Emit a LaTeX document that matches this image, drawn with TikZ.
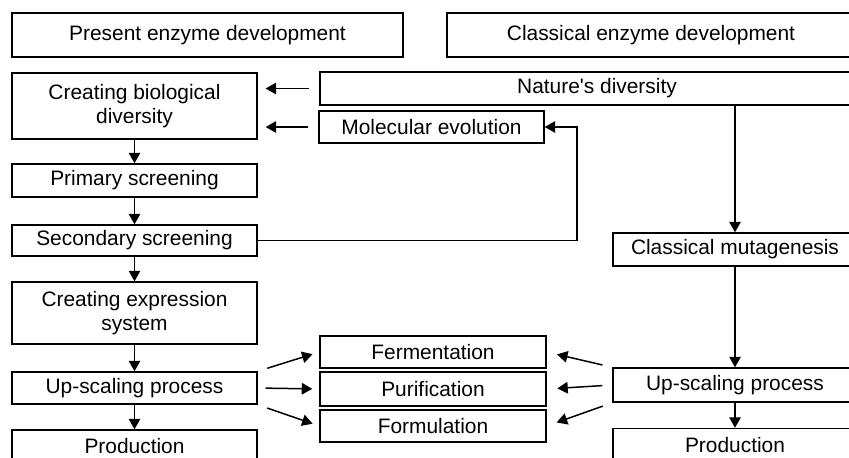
\documentclass[tikz,border=0pt]{standalone}
\usepackage{fontspec}
\setmainfont{Liberation Sans}
\usetikzlibrary{positioning,arrows.meta,calc}
\tikzset{
  flowarrow/.style={-{Triangle[length=2.1mm, width=2.3mm]}, line width=0.85pt},
  stepbox/.style={draw, line width=0.85pt, inner sep=0pt, align=center, minimum height=0.66cm},
  colbox/.style={stepbox, minimum width=4.9cm},
  midbox/.style={stepbox, minimum width=4.52cm},
  rightbox/.style={stepbox, minimum width=4.88cm}
}
\begin{document}
\begin{tikzpicture}[x=0.02cm, y=-0.02cm, every node/.style={font=\fontsize{11.9}{13.2}\selectfont}]
  \useasboundingbox (0,0) rectangle (849,457);
  \clip (0,0) rectangle (849,457);
  % headers
  \node[stepbox, minimum width=7.82cm, minimum height=0.88cm] (present) at (207.5,35) {Present enzyme development};
  \node[stepbox, minimum width=8.16cm, minimum height=0.88cm] (classical) at (651,35) {Classical enzyme development};
  % present route
  \node[colbox, minimum height=1.32cm] (cbd) at (134.5,106) {Creating biological\\diversity};
  \node[colbox] (prim) at (134.5,180.5) {Primary screening};
  \node[colbox, minimum height=0.62cm] (sec) at (134.5,240.5) {Secondary screening};
  \node[colbox, minimum height=1.24cm] (ces) at (134.5,313) {Creating expression\\system};
  \node[colbox, minimum height=0.64cm] (upl) at (134.5,388) {Up-scaling process};
  \node[colbox, minimum height=0.64cm] (prl) at (134.5,446) {Production};
  % sources
  \node[stepbox, minimum width=11.08cm] (nat) at (597,88.5) {Nature\textquotesingle s diversity};
  \node[stepbox, minimum width=4.5cm, minimum height=0.64cm] (mol) at (431.5,127) {Molecular evolution};
  % downstream
  \node[midbox, minimum height=0.64cm] (ferm) at (433,352) {Fermentation};
  \node[midbox, minimum height=0.68cm] (pur) at (433,389) {Purification};
  \node[midbox, minimum height=0.64cm] (form) at (433,426) {Formulation};
  % classical route
  \node[rightbox] (cm) at (735,249.5) {Classical mutagenesis};
  \node[rightbox, minimum height=0.68cm] (upr) at (735,385) {Up-scaling process};
  \node[rightbox] (prr) at (735,445) {Production};
  \coordinate (fb) at (577,127);

  \draw[flowarrow, shorten <=5.7pt, shorten >=4.5pt] (nat.west) -- (cbd.east |- nat.west);
  \draw[flowarrow, shorten <=5.7pt, shorten >=4.5pt] (mol.west) -- (cbd.east |- mol.west);
  \draw[flowarrow] (cbd) -- (prim);
  \draw[flowarrow] (prim) -- (sec);
  \draw[flowarrow] (sec) -- (ces);
  \draw[flowarrow] (ces) -- (upl);
  \draw[flowarrow] (upl) -- (prl);
  \draw[flowarrow] (sec.east) -| (fb) -- (mol.east);
  \draw[flowarrow] (cm.north |- nat.south) -- (cm.north);
  \draw[flowarrow] (cm) -- (upr);
  \draw[flowarrow] (upr) -- (prr);
  \draw[flowarrow, shorten <=5.7pt, shorten >=4pt] (upl.north east) -- (ferm.west);
  \draw[flowarrow, shorten <=4.5pt, shorten >=4pt] (upl.east) -- (pur.west);
  \draw[flowarrow, shorten <=5.7pt, shorten >=4pt] (upl.south east) -- (form.west);
  \draw[flowarrow, shorten <=5.7pt, shorten >=6pt] (upr.north west) -- (ferm.east);
  \draw[flowarrow, shorten <=5.7pt, shorten >=6pt] (upr.west) -- (pur.east);
  \draw[flowarrow, shorten <=5.7pt, shorten >=6pt] (upr.south west) -- (form.east);
\end{tikzpicture}
\end{document}
